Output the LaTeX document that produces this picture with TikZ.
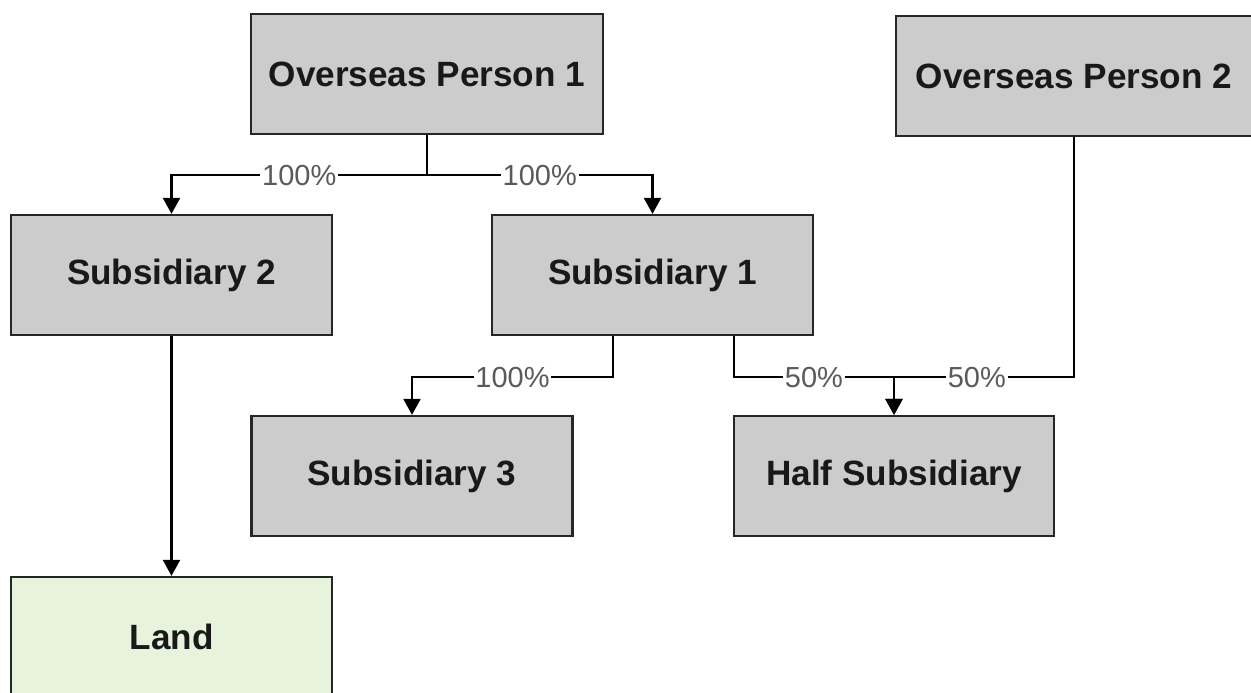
\documentclass[tikz,border=0pt]{standalone}
\usepackage{fontspec}
\setmainfont{Liberation Sans}
\usetikzlibrary{arrows.meta, positioning}

\definecolor{boxgray}{HTML}{CCCCCC}
\definecolor{landgreen}{HTML}{E7F3DD}
\definecolor{pctgray}{HTML}{5A5A5A}

\begin{document}
\begin{tikzpicture}[x=0.02cm, y=-0.02cm,
        entity/.style={draw=black!85, line width=1.3pt, rectangle, minimum height=2.4cm, minimum width=6.42cm, fill=boxgray, font=\fontsize{20}{24}\selectfont\bfseries, text=black!90},
        link/.style={line width=1.3pt, -{Triangle[width=0.34cm, length=0.32cm]}},
        pct/.style={fill=white, inner sep=1pt, text=pctgray, font=\fontsize{16.5}{19}\selectfont}]
        \useasboundingbox (0,0) rectangle (1251,693);

        \node[entity, minimum width=7.04cm] (person1) at (427,74) {Overseas Person 1};
        \node[entity, minimum width=7.12cm] (person2) at (1074,76) {Overseas Person 2};
        \node[entity] (sub2) at (171.5,275) {Subsidiary 2};
        \node[entity] (sub1) at (652.5,275) {Subsidiary 1};
        \node[entity] (sub3) at (412,476) {Subsidiary 3};
        \node[entity, minimum width=6.4cm] (half) at (894,476) {Half Subsidiary};
        \node[entity, fill=landgreen] (land) at (171.5,637) {Land};

        \draw[link] (person1.south) -- ++(0,40) -| node[pos=0.25, pct] {100\%} (sub2.north);
        \draw[link] (person1.south) -- ++(0,40) -| node[pos=0.25, pct] {100\%} (sub1.north);
        \draw[link] ([xshift=-0.79cm]sub1.south) -- ++(0,41) -| node[pos=0.25, pct] {100\%} (sub3.north);
        \draw[link] ([xshift=1.63cm]sub1.south) -- ++(0,41) -| node[pos=0.25, pct] {50\%} (half.north);
        \draw[link] (person2.south) -- ++(0,240) -| node[pos=0.27, pct] {50\%} (half.north);
        \draw[link] (sub2) -- (land);
    \end{tikzpicture}
\end{document}
